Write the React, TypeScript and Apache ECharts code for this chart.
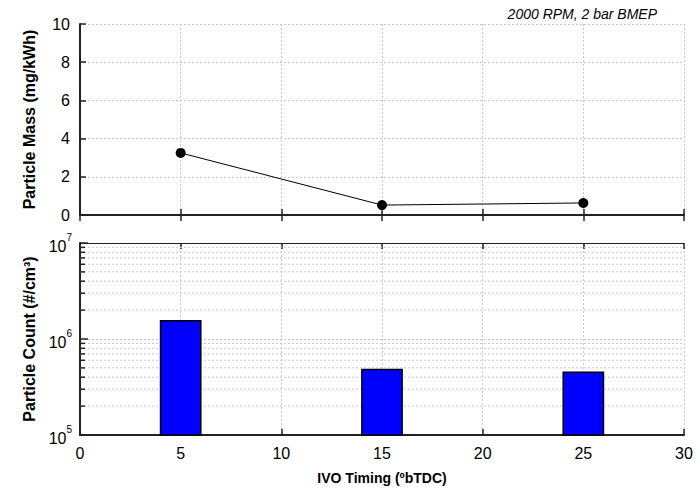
import React, { useEffect, useRef } from "react";
import * as echarts from "echarts";

const ivoTiming = [5, 15, 25];
const particleMass = [3.25, 0.52, 0.63];
const particleCount = [1.55e6, 4.8e5, 4.5e5];
const massTicks = { min: 0, max: 10, interval: 2 };
const countRange = { min: 1e5, max: 1e7 };
const xRange = { min: 0, max: 30, interval: 5 };
const minorCountTicks = [
  2e5, 3e5, 4e5, 5e5, 6e5, 7e5, 8e5, 9e5,
  2e6, 3e6, 4e6, 5e6, 6e6, 7e6, 8e6, 9e6,
];
const barHalfWidth = 1;

const FONT = "'Liberation Sans', Arial, sans-serif";
const gridLine = { show: true, lineStyle: { color: "#c8c8c8", type: [2, 2] as any, width: 1 } };

export default function App() {
  const ref = useRef<HTMLDivElement>(null);
  useEffect(() => {
    if (!ref.current) return;
    const chart = echarts.init(ref.current, undefined, { renderer: "svg" });
    const axisLineMain = { show: true, lineStyle: { color: "#222", width: 2 } };
    const axisLineFrame = { show: true, lineStyle: { color: "#222", width: 1 } };
    const labelStyle = { color: "#000", fontSize: 16, fontFamily: FONT };
    const option: any = {
      animation: false,
      backgroundColor: "#fff",
      textStyle: { fontFamily: FONT },
      title: {
        text: "2000 RPM, 2 bar BMEP",
        right: 38,
        top: 2,
        textStyle: { fontSize: 14, fontStyle: "italic", fontWeight: "normal", color: "#000", fontFamily: FONT },
      },
      grid: [
        { left: 80, right: 16, top: 24, height: 191 },
        { left: 80, right: 16, top: 243, height: 192 },
      ],
      xAxis: [
        {
          gridIndex: 0, type: "value", ...xRange, position: "bottom",
          axisLine: axisLineMain, axisLabel: { show: false },
          axisTick: { show: true, inside: true, length: 6, lineStyle: { color: "#222", width: 1.5 } },
          splitLine: gridLine,
        },
        {
          gridIndex: 0, type: "value", ...xRange, position: "top",
          axisLine: axisLineFrame, axisLabel: { show: false },
          axisTick: { show: true, inside: true, length: 6, lineStyle: { color: "#222", width: 1.5 } },
          splitLine: { show: false },
        },
        {
          gridIndex: 1, type: "value", ...xRange, position: "bottom",
          axisLine: axisLineMain,
          axisLabel: { ...labelStyle, margin: 10 },
          axisTick: { show: true, inside: true, length: 6, lineStyle: { color: "#222", width: 1.5 } },
          splitLine: gridLine,
          name: "IVO Timing (ºbTDC)",
          nameLocation: "middle",
          nameGap: 36,
          nameTextStyle: { fontSize: 14, fontWeight: "bold", color: "#000", fontFamily: FONT },
        },
        {
          gridIndex: 1, type: "value", ...xRange, position: "top",
          axisLine: axisLineFrame, axisLabel: { show: false },
          axisTick: { show: true, inside: true, length: 6, lineStyle: { color: "#222", width: 1.5 } },
          splitLine: { show: false },
        },
      ],
      yAxis: [
        {
          gridIndex: 0, type: "value", ...massTicks, position: "left",
          axisLine: axisLineMain,
          axisLabel: { ...labelStyle, margin: 10 },
          axisTick: { show: true, inside: true, length: 6, lineStyle: { color: "#222", width: 1.5 } },
          splitLine: gridLine,
          name: "Particle Mass (mg/kWh)",
          nameLocation: "middle",
          nameGap: 43,
          nameTextStyle: { fontSize: 16, fontWeight: "bold", color: "#000", fontFamily: FONT },
        },
        {
          gridIndex: 0, type: "value", ...massTicks, position: "right",
          axisLine: axisLineFrame, axisLabel: { show: false }, axisTick: { show: false },
          splitLine: { show: false },
        },
        {
          gridIndex: 1, type: "log", logBase: 10, ...countRange, position: "left",
          axisLine: axisLineMain,
          axisLabel: {
            margin: 8,
            formatter: (v: number) => `{b|10}{s|${Math.round(Math.log10(v))}}`,
            rich: {
              b: { fontSize: 16, color: "#000", fontFamily: FONT, padding: [6, 0, 0, 0] },
              s: { fontSize: 10, color: "#000", fontFamily: FONT, verticalAlign: "top" },
            },
          },
          axisTick: { show: true, inside: true, length: 8, lineStyle: { color: "#222", width: 1.5 } },
          splitLine: gridLine,
          name: "Particle Count (#/cm³)",
          nameLocation: "middle",
          nameGap: 43,
          nameTextStyle: { fontSize: 16, fontWeight: "bold", color: "#000", fontFamily: FONT },
        },
        {
          gridIndex: 1, type: "log", logBase: 10, ...countRange, position: "right",
          axisLine: axisLineFrame, axisLabel: { show: false }, axisTick: { show: false },
          splitLine: { show: false },
        },
      ],
      series: [
        {
          type: "line",
          xAxisIndex: 0,
          yAxisIndex: 0,
          data: ivoTiming.map((x, i) => [x, particleMass[i]]),
          symbol: "circle",
          symbolSize: 10,
          itemStyle: { color: "#000" },
          lineStyle: { color: "#000", width: 1 },
          z: 5,
        },
        {
          type: "custom",
          xAxisIndex: 2,
          yAxisIndex: 2,
          silent: true,
          clip: true,
          data: minorCountTicks.map((v) => [0, v]),
          encode: { x: 0, y: 1 },
          renderItem: (params: any, api: any) => {
            const cs = params.coordSys;
            const p = api.coord([0, api.value(1)]);
            return {
              type: "group",
              children: [
                {
                  type: "line",
                  shape: { x1: cs.x, y1: p[1], x2: cs.x + cs.width, y2: p[1] },
                  style: { stroke: "#c8c8c8", lineWidth: 1, lineDash: [2, 2] },
                },
                {
                  type: "line",
                  shape: { x1: cs.x, y1: p[1], x2: cs.x + 5, y2: p[1] },
                  style: { stroke: "#222", lineWidth: 1.5 },
                },
              ],
            };
          },
          z: 1,
        },
        {
          type: "custom",
          xAxisIndex: 2,
          yAxisIndex: 2,
          data: ivoTiming.map((x, i) => [x, particleCount[i]]),
          encode: { x: 0, y: 1 },
          renderItem: (params: any, api: any) => {
            const x = api.value(0);
            const y = api.value(1);
            const tl = api.coord([x - barHalfWidth, y]);
            const br = api.coord([x + barHalfWidth, countRange.min]);
            return {
              type: "rect",
              shape: { x: tl[0], y: tl[1], width: br[0] - tl[0], height: br[1] - tl[1] },
              style: { fill: "#0000ff", stroke: "#000", lineWidth: 1.5 },
            };
          },
          z: 4,
        },
      ],
    };
    chart.setOption(option);
    return () => chart.dispose();
  }, []);
  return (
    <div
      ref={ref}
      style={{ position: "fixed", left: 0, top: 0, width: 700, height: 493, background: "#fff" }}
    />
  );
}
